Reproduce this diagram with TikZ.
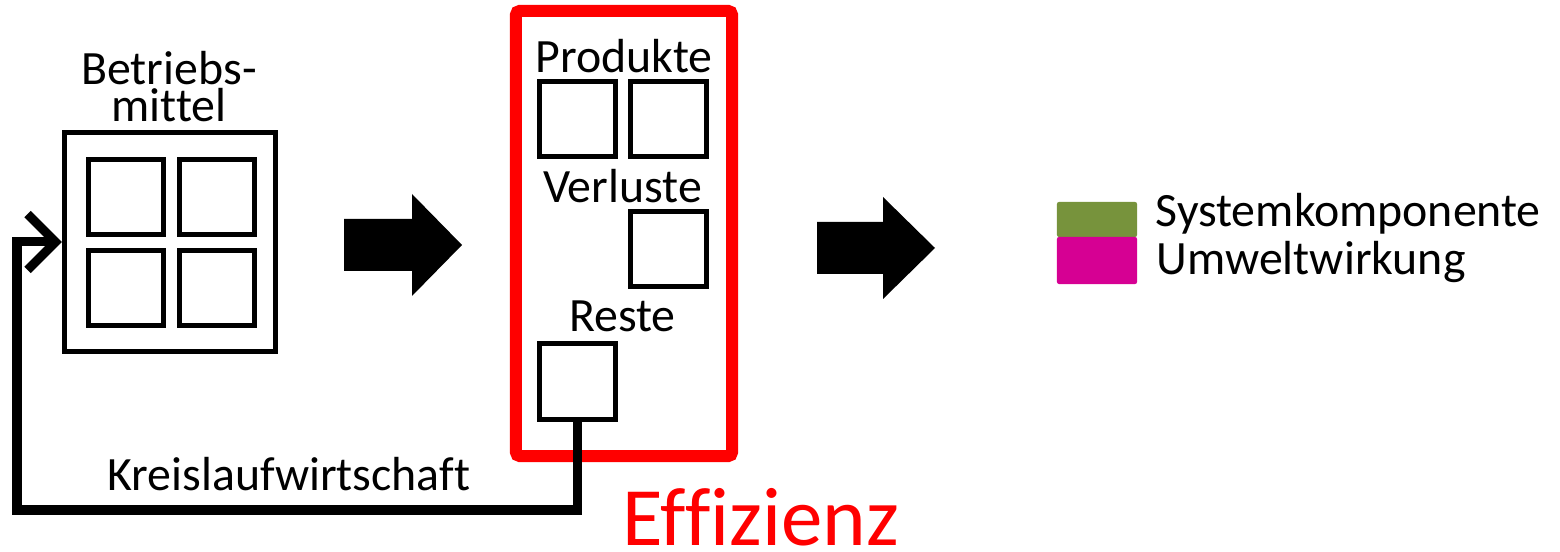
\documentclass[tikz,border=0pt]{standalone}
\usepackage{fontspec}
\setmainfont{Carlito}[Ligatures=NoCommon]
\usetikzlibrary{arrows.meta}
\definecolor{sysgruen}{RGB}{119,147,60}
\definecolor{umweltmag}{RGB}{214,0,147}

\begin{document}
\begin{tikzpicture}[x=0.01cm,y=-0.01cm,
		kasten/.style={draw, line width=0.05cm, minimum size=0.75cm, inner sep=0pt},
		beschr/.style={font=\fontsize{13.6pt}{10.8pt}\selectfont, inner sep=0pt, anchor=base},
		blockpfeil/.style={fill=black},
		rueck/.style={draw, line width=0.09cm, -{Straight Barb[length=0.28cm, width=0.56cm]}}]
		\useasboundingbox (0,0) rectangle (1560,552);
		\node[draw, line width=0.05cm, minimum width=2.11cm, minimum height=2.19cm] (betrieb) at (170,242) {};
		\node[kasten] (bm1) at (126,197) {};
		\node[kasten] (bm2) at (217,197) {};
		\node[kasten] (bm3) at (126,288) {};
		\node[kasten] (bm4) at (217,288) {};
		\node[beschr, align=center] (betriebtext) at (169,122) {Betriebs-\\mittel};
		\node[draw=red, line width=0.12cm, rounded corners=0.04cm, minimum width=2.16cm, minimum height=4.45cm] (ergebnis) at (624,233.5) {};
		\node[beschr] (produkte) at (624,73) {Produkte};
		\node[kasten] (prod1) at (577.5,119) {};
		\node[kasten] (prod2) at (668.5,119) {};
		\node[beschr] (verluste) at (622.5,203) {Verluste};
		\node[kasten] (verl) at (668.5,249) {};
		\node[beschr] (restetext) at (622.5,332) {Reste};
		\node[kasten] (reste) at (577.5,381.5) {};
		\coordinate (ecke) at (17,510);
		\draw[rueck] (reste.south) |- (ecke) |- (betrieb.west);
		\node[beschr] (kreislauf) at (289,491) {Kreislaufwirtschaft};
		\node[font=\fontsize{23.6pt}{27pt}\selectfont, text=red, inner sep=0pt, anchor=base west] (effizienz) at (622,546) {Effizienz};
		\fill[blockpfeil, shift={(344,245)}] (0,-26) -- (68,-26) -- (68,-51) -- (118,0) -- (68,51) -- (68,26) -- (0,26) -- cycle;
		\fill[blockpfeil, shift={(817,248)}] (0,-26) -- (66,-26) -- (66,-51) -- (118,0) -- (66,51) -- (66,26) -- (0,26) -- cycle;
		\node[fill=sysgruen, rounded corners=0.02cm, minimum width=0.8cm, minimum height=0.35cm, inner sep=0pt] (sys) at (1097,219.5) {};
		\node[fill=umweltmag, rounded corners=0.02cm, minimum width=0.8cm, minimum height=0.47cm, inner sep=0pt] (umw) at (1097,260.5) {};
		\node[beschr, anchor=base west] (systext) at (1155,227) {Systemkomponente};
		\node[beschr, anchor=base west] (umwtext) at (1156,275) {Umweltwirkung};
		\end{tikzpicture}
\end{document}
